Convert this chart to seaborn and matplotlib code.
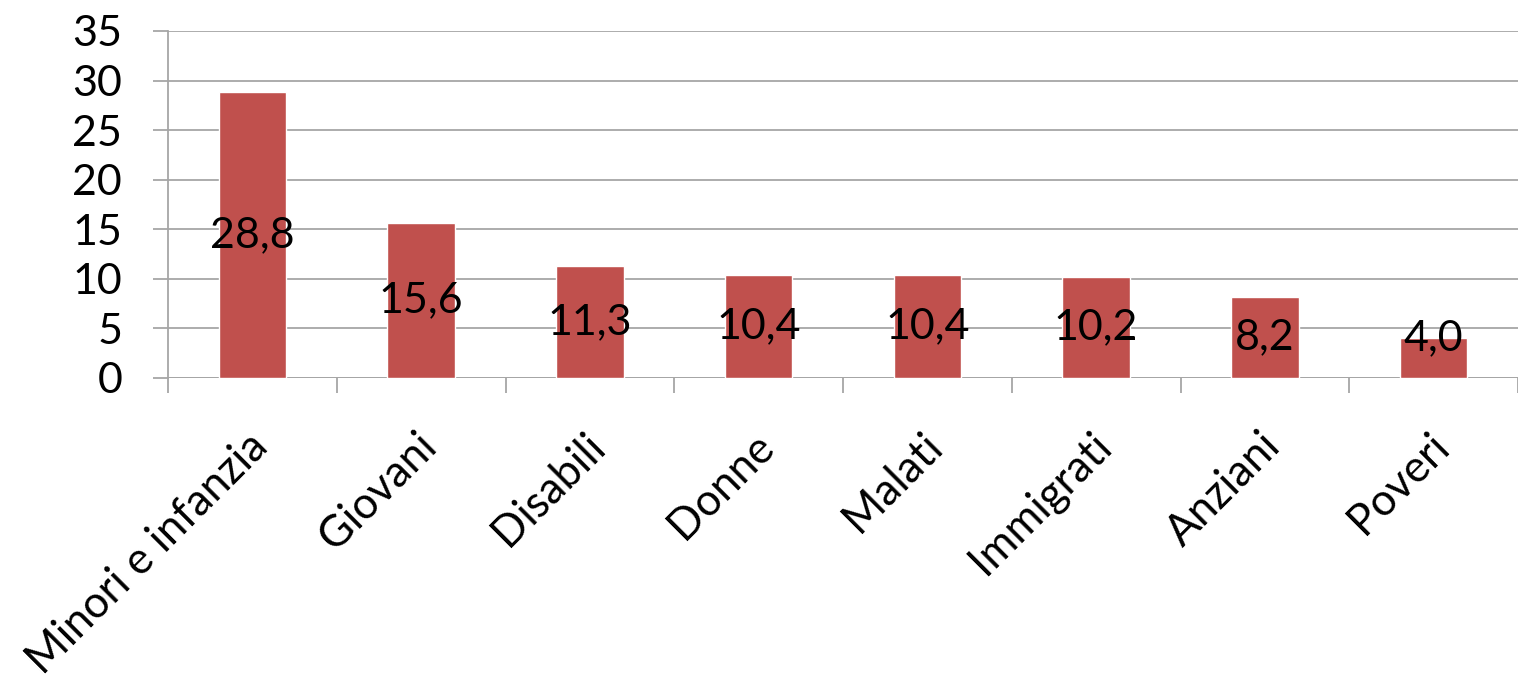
import pandas as pd
import matplotlib
matplotlib.use("Agg")
import matplotlib.pyplot as plt
import matplotlib.transforms as mtransforms
import seaborn as sns

categories = ["Minori e infanzia", "Giovani", "Disabili", "Donne",
              "Malati", "Immigrati", "Anziani", "Poveri"]
values = [28.8, 15.6, 11.3, 10.4, 10.4, 10.2, 8.2, 4.0]
y_ticks = [0, 5, 10, 15, 20, 25, 30, 35]

BAR_COLOR = "#C0504D"
GRID_COLOR = "#A6A6A6"


def main():
    sns.set_theme(style="white")
    plt.rcParams["font.family"] = ["Lato", "DejaVu Sans"]
    plt.rcParams["text.color"] = "black"
    plt.rcParams["xtick.labelcolor"] = "black"
    plt.rcParams["ytick.labelcolor"] = "black"

    df = pd.DataFrame({"categoria": categories, "valore": values})

    fig = plt.figure(figsize=(15.18, 6.84), dpi=100)
    ax = fig.add_axes([0.1107, 0.4474, 0.8893, 0.5073])

    sns.barplot(data=df, x="categoria", y="valore", color=BAR_COLOR,
                saturation=1, width=0.4, ax=ax, zorder=3)

    ax.set_xlim(-0.5, len(categories) - 0.5)
    ax.set_ylim(0, 35)
    ax.set_yticks(y_ticks)
    ax.set_yticklabels([str(t) for t in y_ticks], fontsize=31)
    ax.yaxis.grid(True, color=GRID_COLOR, linewidth=1.3, zorder=0)
    ax.set_axisbelow(True)

    for side in ["top", "right", "bottom"]:
        ax.spines[side].set_visible(False)
    ax.spines["left"].set_color(GRID_COLOR)
    ax.spines["left"].set_linewidth(1.3)
    ax.axhline(0, color=GRID_COLOR, linewidth=1.3, zorder=2)

    ax.tick_params(axis="y", direction="out", length=11, width=1.3,
                   color=GRID_COLOR, pad=22, left=True)

    # category labels, ticks between categories
    ax.set_xticks(range(len(categories)))
    ax.set_xticklabels(categories, fontsize=31.5, rotation=45, ha="right",
                       va="top", rotation_mode="anchor")
    ax.tick_params(axis="x", which="major", length=0, pad=34)
    shift = mtransforms.ScaledTranslation(-6 / 100, 0, fig.dpi_scale_trans)
    for lbl in ax.get_xticklabels():
        lbl.set_transform(lbl.get_transform() + shift)
    ax.set_xticks([i - 0.5 for i in range(len(categories) + 1)], minor=True)
    ax.tick_params(axis="x", which="minor", direction="out", length=11,
                   width=1.3, color=GRID_COLOR, bottom=True)
    ax.set_xlabel("")
    ax.set_ylabel("")

    for i, v in enumerate(values):
        label = f"{v:.1f}".replace(".", ",")
        ax.text(i, max(v / 2, 4.0), label, ha="center", va="center",
                fontsize=31, color="black", zorder=4)

    fig.savefig("out.png", dpi=100)
    plt.close(fig)


if __name__ == "__main__":
    main()
